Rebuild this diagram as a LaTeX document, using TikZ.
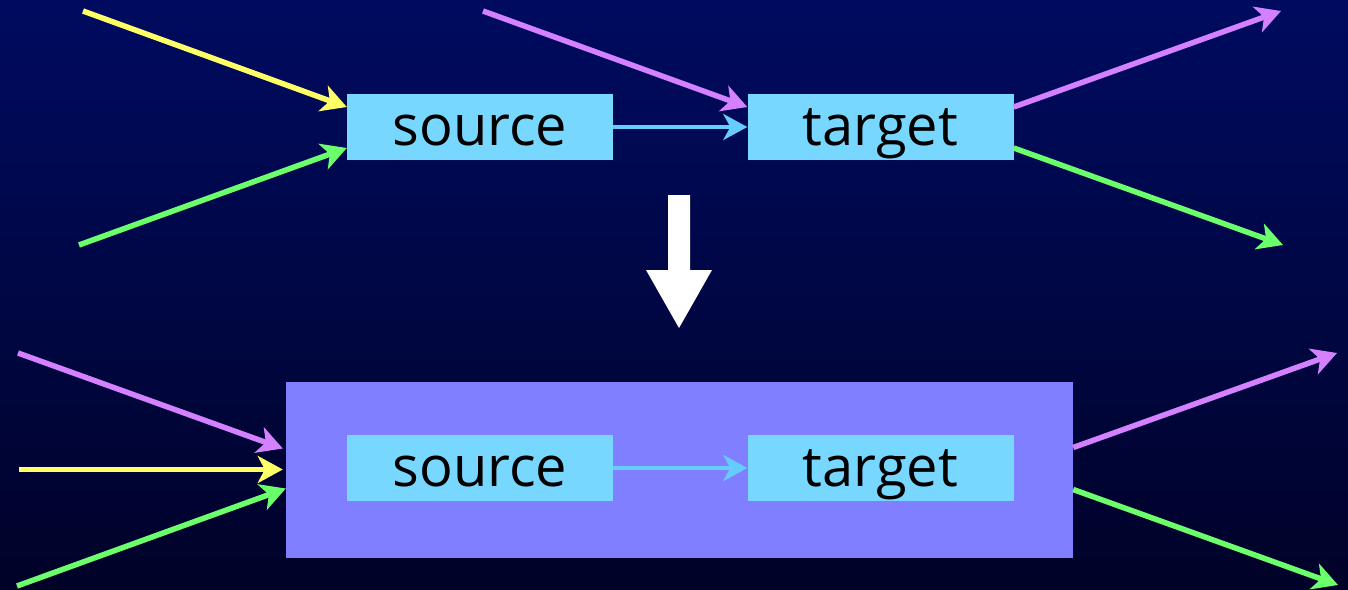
\documentclass[tikz,border=0pt]{standalone}
\usepackage{fontspec}
\setmainfont{Open Sans}
\usetikzlibrary{arrows.meta,calc}
\definecolor{bgtop}{RGB}{0,11,96}
\definecolor{bgbot}{RGB}{0,2,40}
\definecolor{boxblue}{RGB}{120,215,255}
\definecolor{bigbox}{RGB}{127,127,255}
\definecolor{arrpurple}{RGB}{213,128,255}
\definecolor{arryellow}{RGB}{255,255,102}
\definecolor{arrgreen}{RGB}{108,255,108}
\definecolor{linkblue}{RGB}{102,204,255}
\tikzset{
  nodebox/.style={fill=boxblue, minimum width=266pt, minimum height=66pt, inner sep=0pt},
  labeltext/.style={font=\fontsize{56}{60}\selectfont, inner sep=0pt, anchor=base},
  flow/.style={line width=5.5pt, -{Stealth[length=25pt,width=27pt,inset=7pt]}},
  link/.style={line width=4pt, linkblue, -{Stealth[length=24pt,width=26pt,inset=7pt]}},
}
\begin{document}
\begin{tikzpicture}[x=1pt,y=-1pt]
\shade[top color=bgtop, bottom color=bgbot] (0,0) rectangle (1348,589);
\useasboundingbox (0,0) rectangle (1348,589);
% top row
\node[nodebox] (s1) at (480,127) {};
\node[labeltext] (s1t) at (480,145) {source};
\node[nodebox] (t1) at (880.5,127) {};
\node[labeltext] (t1t) at (880.5,145) {target};
\coordinate (y1) at (83,11);
\coordinate (g1) at (79,245);
\coordinate (p1) at (483,11);
\coordinate (po1) at (1281,11);
\coordinate (go1) at (1283,245);
\draw[flow, arryellow] (y1) -- ([yshift=20pt]s1.west);
\draw[flow, arrgreen] (g1) -- ([yshift=-21pt]s1.west);
\draw[flow, arrpurple] (p1) -- ([yshift=20pt]t1.west);
\draw[link] (s1.east) -- (t1.west);
\draw[flow, arrpurple] ([yshift=20pt]t1.east) -- (po1);
\draw[flow, arrgreen] ([yshift=-21pt]t1.east) -- (go1);
% big down arrow
\fill[white] (668,195) -- (690,195) -- (690,270) -- (712,270) -- (679,328) -- (646,270) -- (668,270) -- cycle;
% bottom row
\node[fill=bigbox, minimum width=787pt, minimum height=176pt, inner sep=0pt] (B) at (679.5,469.5) {};
\node[nodebox] (s2) at (480,468) {};
\node[labeltext] (s2t) at (480,486) {source};
\node[nodebox] (t2) at (880.5,468) {};
\node[labeltext] (t2t) at (880.5,486) {target};
\coordinate (p2) at (18,353);
\coordinate (y2) at (19,469.5);
\coordinate (g2) at (17,586);
\coordinate (po2) at (1337,353);
\coordinate (go2) at (1338,585);
\draw[flow, arrpurple] (p2) -- ([xshift=-3pt,yshift=21pt]B.west);
\draw[flow, arryellow] (y2) -- ([xshift=-3pt]B.west);
\draw[flow, arrgreen] (g2) -- ([yshift=-19pt]B.west);
\draw[link] (s2.east) -- (t2.west);
\draw[flow, arrpurple] ([yshift=22pt]B.east) -- (po2);
\draw[flow, arrgreen] ([yshift=-20pt]B.east) -- (go2);
\end{tikzpicture}
\end{document}
